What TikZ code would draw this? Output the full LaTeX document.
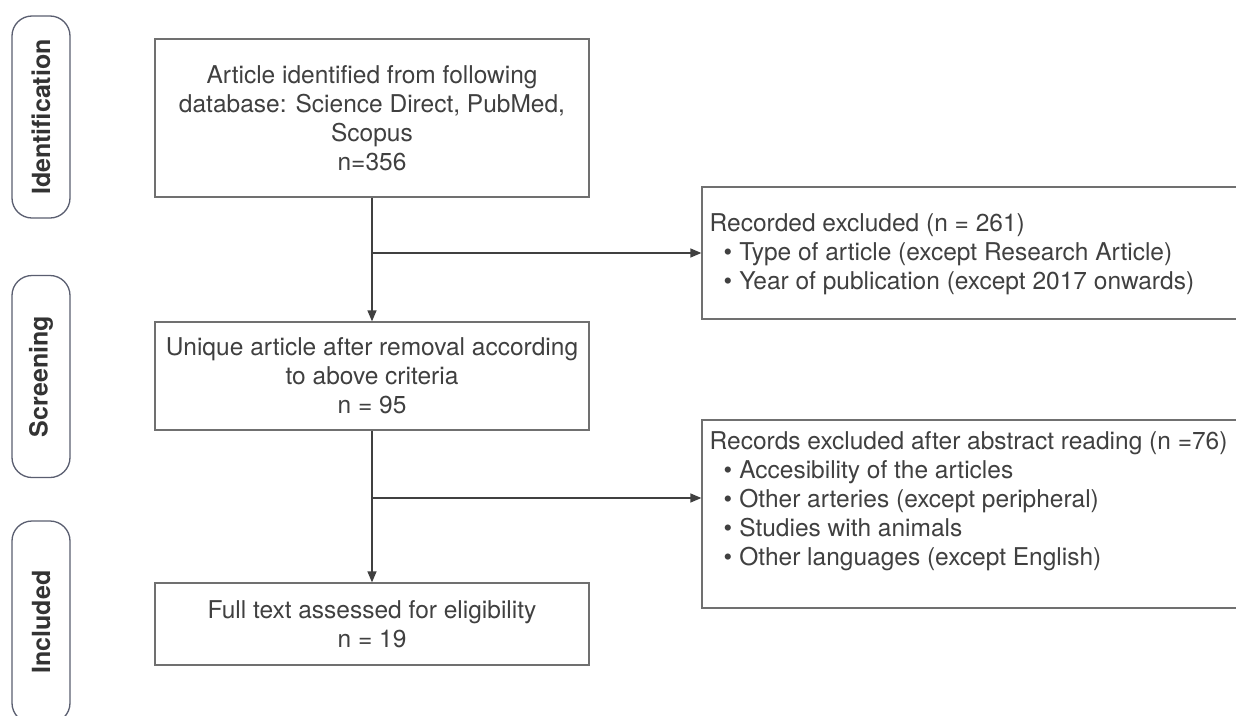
\documentclass[tikz,border=0pt]{standalone}
\usepackage{fontspec}
\setmainfont{TeX Gyre Heros}
\usetikzlibrary{arrows.meta}
\definecolor{txt}{HTML}{404040}
\definecolor{bord}{HTML}{707070}
\definecolor{stage}{HTML}{5A5E70}
\tikzset{
  box/.style={draw=bord, line width=1.3pt, rectangle, minimum width=434pt, inner sep=0pt, text=txt, align=center, font=\fontsize{24.5}{29}\selectfont},
  sidebox/.style={draw=bord, line width=1.3pt, rectangle, minimum width=548pt, inner sep=0pt},
  sidetext/.style={anchor=north west, inner sep=0pt, text=txt, align=left, font=\fontsize{24.5}{29}\selectfont},
  stagebox/.style={draw=stage, line width=1.3pt, rounded corners=20pt, minimum width=58pt, minimum height=202pt, inner sep=0pt},
  stagetext/.style={text=black!80, rotate=90, font=\fontsize{25}{28}\selectfont\bfseries},
  conn/.style={draw=txt, line width=1.3pt, -{Triangle[length=11pt,width=9pt]}},
  line/.style={draw=txt, line width=1.3pt}
}
\newcommand{\bul}{\hspace*{14pt}\textbullet\hspace{7pt}}
\begin{document}
\begin{tikzpicture}[x=1pt,y=-1pt]
\useasboundingbox (0,0) rectangle (1236,715);
\clip (0,0) rectangle (1236,715);
\fill[white] (0,0) rectangle (1236,715);
% stage labels
\node[stagebox] (s1) at (41,117) {};
\node[stagetext] (t1) at (s1.center) {Identification};
\node[stagebox] (s2) at (41,376.5) {};
\node[stagetext] (t2) at (s2.center) {Screening};
\node[stagebox] (s3) at (41,622) {};
\node[stagetext] (t3) at (s3.center) {Included};
% main boxes
\node[box, minimum height=158pt] (b1) at (372,118) {Article identified from following\\database: Science Direct, PubMed,\\Scopus\\n=356};
\node[box, minimum height=108pt] (b2) at (372,376) {Unique article after removal according\\to above criteria\\n = 95};
\node[box, minimum height=82pt] (b3) at (372,624) {Full text assessed for eligibility\\n = 19};
% side boxes
\node[sidebox, minimum height=132pt] (r1) at (976,253) {};
\node[sidetext] (r1t) at (709.5,213) {Recorded excluded (n = 261)\\\bul Type of article (except Research Article)\\\bul Year of publication (except 2017 onwards)};
\node[sidebox, minimum height=188pt] (r2) at (976,514) {};
\node[sidetext] (r2t) at (709.5,431) {Records excluded after abstract reading (n =76)\\\bul Accesibility of the articles\\\bul Other arteries (except peripheral)\\\bul Studies with animals\\\bul Other languages (except English)};
% connectors
\coordinate (j1) at (372,253);
\coordinate (j2) at (372,498);
\draw[conn] (b1.south) -- (b2.north);
\draw[conn] (j1) -- (j1 -| r1.west);
\draw[conn] (b2.south) -- (b3.north);
\draw[conn] (j2) -- (j2 -| r2.west);
\end{tikzpicture}
\end{document}
